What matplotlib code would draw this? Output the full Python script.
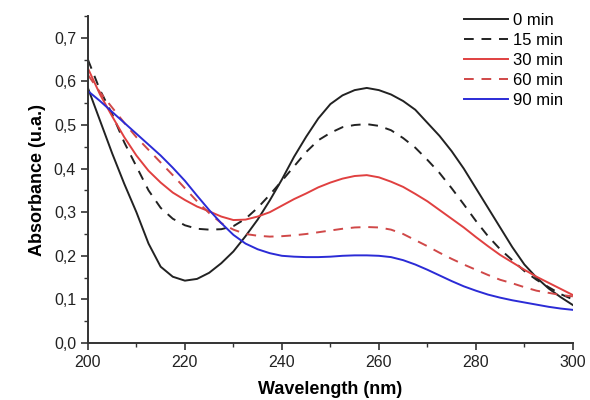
import numpy as np
import matplotlib
matplotlib.use("Agg")
import matplotlib.pyplot as plt
from matplotlib.ticker import MultipleLocator, FuncFormatter

plt.rcParams['font.family'] = ['Liberation Sans', 'DejaVu Sans']

# wavelength grid (nm), read every 2.5 nm
wavelength = [200 + 2.5 * i for i in range(41)]

# absorbance for each irradiation time
abs_0 = [0.585, 0.51, 0.435, 0.365, 0.30, 0.228, 0.175, 0.152, 0.143, 0.147,
         0.161, 0.183, 0.21, 0.245, 0.283, 0.327, 0.375, 0.427, 0.473, 0.515,
         0.548, 0.568, 0.58, 0.585, 0.58, 0.57, 0.555, 0.535, 0.505, 0.475,
         0.44, 0.40, 0.355, 0.31, 0.265, 0.22, 0.18, 0.15, 0.125, 0.105, 0.087]
abs_15 = [0.65, 0.58, 0.525, 0.46, 0.405, 0.35, 0.31, 0.285, 0.27, 0.262,
          0.26, 0.261, 0.268, 0.285, 0.31, 0.34, 0.372, 0.405, 0.438, 0.465,
          0.482, 0.495, 0.50, 0.502, 0.498, 0.488, 0.47, 0.448, 0.42, 0.39,
          0.355, 0.318, 0.28, 0.245, 0.215, 0.19, 0.165, 0.145, 0.128, 0.112, 0.10]
abs_30 = [0.63, 0.57, 0.52, 0.472, 0.43, 0.395, 0.368, 0.345, 0.328, 0.313,
          0.302, 0.29, 0.282, 0.283, 0.29, 0.30, 0.315, 0.33, 0.343, 0.357,
          0.368, 0.377, 0.383, 0.385, 0.38, 0.37, 0.358, 0.342, 0.325, 0.305,
          0.285, 0.265, 0.243, 0.222, 0.202, 0.185, 0.168, 0.152, 0.138, 0.124, 0.11]
abs_60 = [0.615, 0.575, 0.54, 0.505, 0.472, 0.443, 0.414, 0.385, 0.355, 0.325,
          0.298, 0.275, 0.26, 0.25, 0.246, 0.244, 0.245, 0.247, 0.25, 0.254,
          0.258, 0.262, 0.265, 0.266, 0.265, 0.26, 0.25, 0.236, 0.222, 0.207,
          0.193, 0.18, 0.168, 0.156, 0.145, 0.137, 0.128, 0.12, 0.115, 0.11, 0.107]
abs_90 = [0.578, 0.555, 0.53, 0.505, 0.48, 0.455, 0.43, 0.402, 0.372, 0.338,
          0.305, 0.275, 0.248, 0.228, 0.215, 0.206, 0.20, 0.198, 0.197, 0.197,
          0.198, 0.20, 0.201, 0.201, 0.20, 0.197, 0.19, 0.18, 0.168, 0.155,
          0.142, 0.13, 0.12, 0.111, 0.104, 0.098, 0.093, 0.088, 0.083, 0.079, 0.076]

labels = ['0 min', '15 min', '30 min', '60 min', '90 min']

fig = plt.figure(figsize=(5.9, 4.0), dpi=100)
ax = fig.add_axes([0.149, 0.1425, 0.822, 0.8175])

dash = (0, (5, 4))
ax.plot(wavelength, abs_0, color='#222222', lw=1.4, label=labels[0])
ax.plot(wavelength, abs_15, color='#222222', lw=1.4, ls=dash, label=labels[1])
ax.plot(wavelength, abs_30, color='#e04040', lw=1.4, label=labels[2])
ax.plot(wavelength, abs_60, color='#d04848', lw=1.4, ls=dash, label=labels[3])
ax.plot(wavelength, abs_90, color='#2b2bd6', lw=1.4, label=labels[4])

ax.set_xlim(200, 300)
ax.set_ylim(0, 0.75)
ax.xaxis.set_major_locator(MultipleLocator(20))
ax.xaxis.set_minor_locator(MultipleLocator(10))
ax.yaxis.set_major_locator(MultipleLocator(0.1))
ax.yaxis.set_minor_locator(MultipleLocator(0.05))
ax.yaxis.set_major_formatter(FuncFormatter(lambda v, p: ('%.1f' % v).replace('.', ',')))

for s in ['top', 'right']:
    ax.spines[s].set_visible(False)
for s in ['left', 'bottom']:
    ax.spines[s].set_linewidth(1.4)
    ax.spines[s].set_color('#333333')
ax.tick_params(which='major', direction='out', length=5, width=1.2, labelsize=11.5, colors='#333333')
ax.tick_params(which='minor', direction='out', length=3, width=1.0, colors='#333333')
ax.tick_params(labelcolor='#222222')

ax.set_xlabel('Wavelength (nm)', fontsize=13, fontweight='bold', labelpad=8)
ax.set_ylabel('Absorbance (u.a.)', fontsize=13, fontweight='bold', labelpad=6)

ax.legend(loc='upper right', bbox_to_anchor=(1.0, 1.04), frameon=False, fontsize=12,
          handlelength=2.6, handletextpad=0.3, labelspacing=0.3, borderaxespad=0.2)

fig.savefig('out.png', dpi=100)
